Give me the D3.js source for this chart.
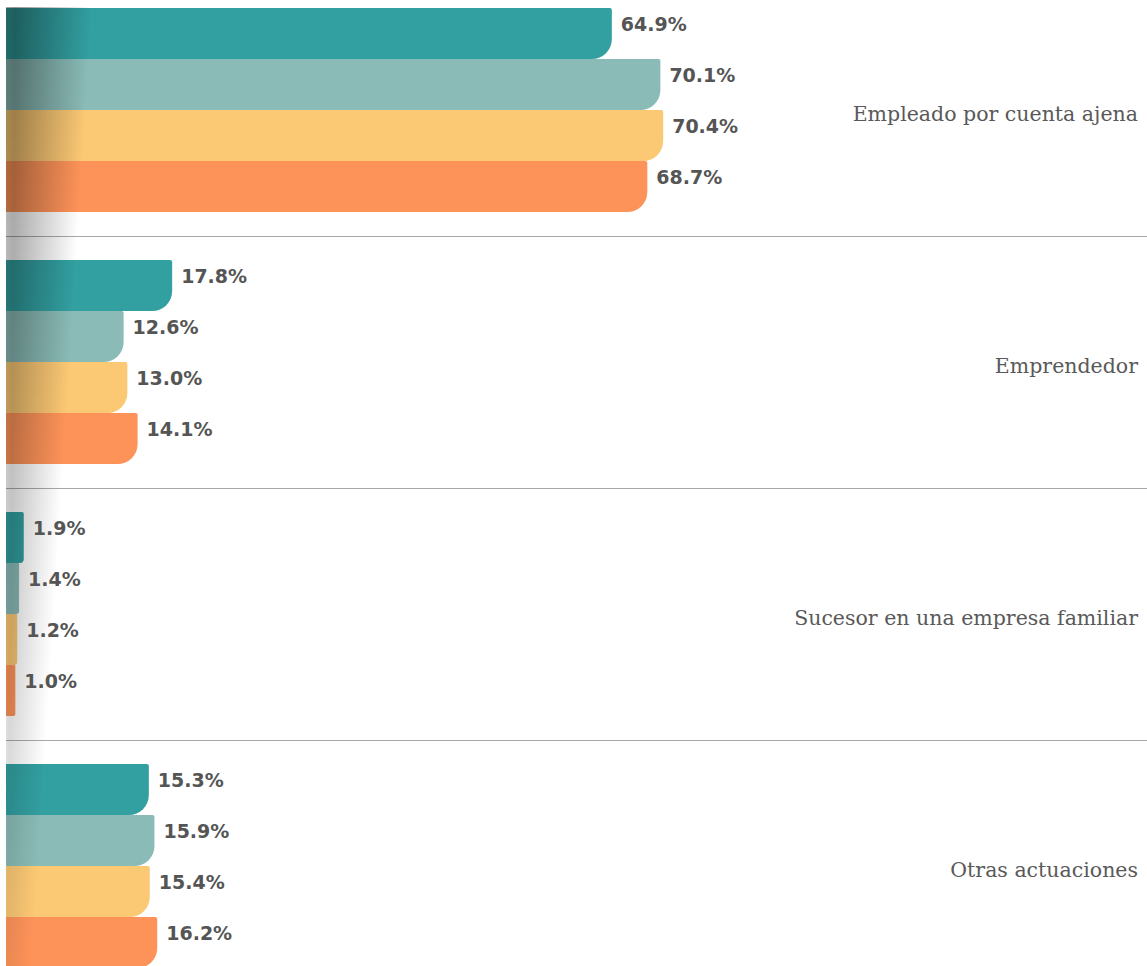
<!DOCTYPE html>
<html>
<head>
<meta charset="utf-8">
<script src="https://cdn.jsdelivr.net/npm/d3@7"></script>
<style>
    body { margin: 0; background: #fff; }
    svg { display: block; }
    .value-label { font-family: "DejaVu Sans", sans-serif; font-weight: bold; font-size: 19px; fill: #555; }
    .cat-label { font-family: "DejaVu Serif", serif; font-size: 20.5px; fill: #595959; }
</style>
</head>
<body>
<div id="chart"></div>
<script>
// DATA
const categories = ["Empleado por cuenta ajena", "Emprendedor", "Sucesor en una empresa familiar", "Otras actuaciones"];
const series = ["Serie 1", "Serie 2", "Serie 3", "Serie 4"];
const serie1 = [64.9, 17.8, 1.9, 15.3];
const serie2 = [70.1, 12.6, 1.4, 15.9];
const serie3 = [70.4, 13.0, 1.2, 15.4];
const serie4 = [68.7, 14.1, 1.0, 16.2];
const colors = ["#329fa0", "#8abbb6", "#fbc874", "#fe9359"];

const values = [serie1, serie2, serie3, serie4];

// VARIABLES
const width = 1147;
const height = 966;
const left = 6;
const groupPad = 24;

const rows = [];
categories.forEach((c, i) => {
    series.forEach((s, j) => {
        rows.push({cat: c, serie: s, value: values[j][i]});
    });
});

const xScale = d3.scaleLinear()
    .domain([0, 100])
    .range([left, 939.5]);

const groupScale = d3.scaleBand()
    .domain(categories)
    .range([-16, 992]);

const barScale = d3.scaleBand()
    .domain(series)
    .range([groupPad, groupScale.bandwidth() - groupPad]);

const colorScale = d3.scaleOrdinal()
    .domain(series)
    .range(colors);

function barPath(d) {
    const x0 = xScale(0);
    const x1 = xScale(d.value);
    const y0 = groupScale(d.cat) + barScale(d.serie);
    const y1 = y0 + barScale.bandwidth();
    const w = x1 - x0;
    const r = Math.min(20, w * 0.22);
    const r2 = Math.min(2, w * 0.1);
    return `M ${x0} ${y0} H ${x1 - r2} Q ${x1} ${y0} ${x1} ${y0 + r2} V ${y1 - r} A ${r} ${r} 0 0 1 ${x1 - r} ${y1} H ${x0} Z`;
}

// CHART SETUP
const svg = d3.select("#chart")
    .append("svg")
    .attr("width", width)
    .attr("height", height);

const defs = svg.append("defs");
const grad = defs.append("linearGradient")
    .attr("id", "shade")
    .attr("x1", "0%").attr("x2", "100%")
    .attr("y1", "0%").attr("y2", "0%");
grad.append("stop").attr("offset", "0%").attr("stop-color", "#000").attr("stop-opacity", 0.85);
grad.append("stop").attr("offset", "10%").attr("stop-color", "#000").attr("stop-opacity", 1);
grad.append("stop").attr("offset", "100%").attr("stop-color", "#000").attr("stop-opacity", 0);

// separators
svg.append("g")
    .selectAll("line")
    .data(categories.slice(1))
    .join("line")
    .attr("x1", left)
    .attr("x2", width)
    .attr("y1", d => groupScale(d) + 0.5)
    .attr("y2", d => groupScale(d) + 0.5)
    .attr("stroke", "#a8a8a8")
    .attr("stroke-width", 1);

// bars
svg.append("g")
    .selectAll("path")
    .data(rows)
    .join("path")
    .attr("d", barPath)
    .attr("fill", d => colorScale(d.serie));

// left shadow, fading from top to bottom
const shadeTop = groupScale(categories[0]) + barScale(series[0]) - 1;
const shadeWidth = d3.scaleLinear().domain([shadeTop, height]).range([86, 26]);
const shadeAlpha = d3.scaleLinear().domain([shadeTop, height]).range([0.41, 0.07]);
const strip = 2;

svg.append("g")
    .selectAll("rect")
    .data(d3.range(shadeTop, height, strip))
    .join("rect")
    .attr("x", left)
    .attr("y", d => d)
    .attr("width", d => shadeWidth(d))
    .attr("height", strip)
    .attr("fill", "url(#shade)")
    .attr("fill-opacity", d => shadeAlpha(d));

// value labels
svg.append("g")
    .selectAll("text")
    .data(rows)
    .join("text")
    .classed("value-label", true)
    .attr("x", d => xScale(d.value) + 9)
    .attr("y", d => groupScale(d.cat) + barScale(d.serie) + 23)
    .text(d => d3.format(".1f")(d.value) + "%");

// category labels
svg.append("g")
    .selectAll("text")
    .data(categories)
    .join("text")
    .classed("cat-label", true)
    .attr("x", 1138)
    .attr("y", d => groupScale(d) + groupScale.bandwidth() / 2 + 11)
    .attr("text-anchor", "end")
    .text(d => d);
</script>
</body>
</html>
